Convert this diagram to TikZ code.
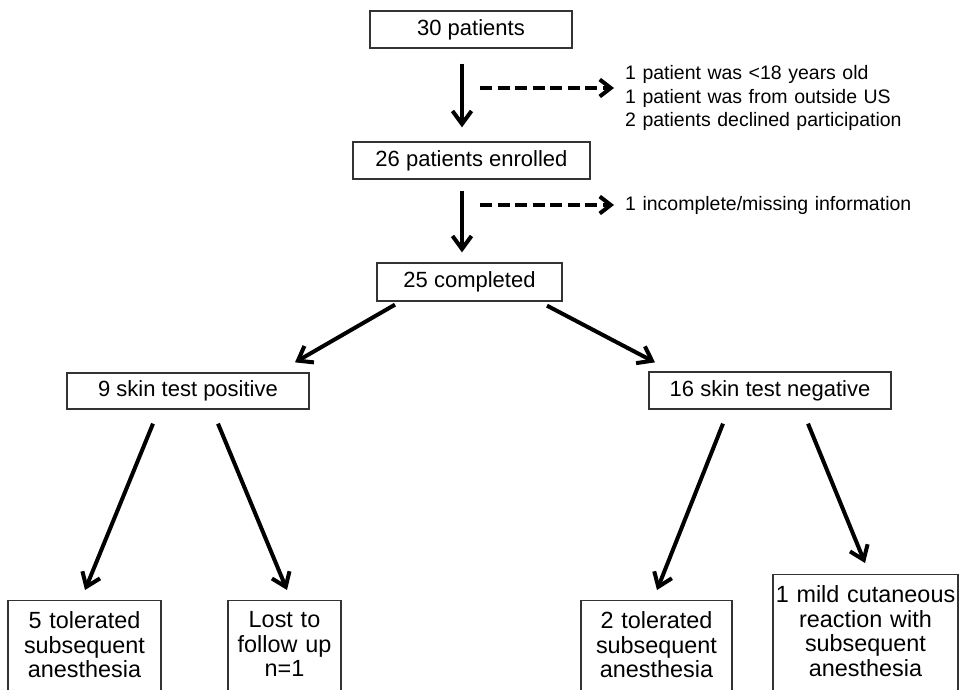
\documentclass[tikz,border=0pt]{standalone}
\usepackage{fontspec}
\setmainfont{Liberation Sans}
\usepackage{tikz}
\usetikzlibrary{arrows.meta}
\tikzset{
  box/.style={draw=black!80,line width=1.3pt,inner sep=0pt,font=\fontsize{22}{26}\selectfont},
  endbox/.style={draw=black!80,line width=1.3pt,anchor=north,inner xsep=0pt,inner ysep=11pt,
    align=center,text depth=95pt,font=\fontsize{23.4}{24.5}\selectfont},
  sidetxt/.style={anchor=base west,inner sep=0pt,text width=330pt,align=left,
    font=\fontsize{19.5}{23.5}\selectfont},
  arr/.style={-{Straight Barb[length=13pt,width=19pt]},line width=4pt},
  dasharr/.style={-{Straight Barb[length=11pt,width=17pt]},line width=4pt,dash pattern=on 12pt off 5.5pt}
}

\begin{document}
\begin{tikzpicture}[x=1pt,y=-1pt]
\useasboundingbox (0,0) rectangle (959,690);
\clip (0,0) rectangle (959,690);

% main column
\node[box,minimum width=202pt,minimum height=37pt] (b30) at (471,29.5) {30 patients};
\node[box,minimum width=237pt,minimum height=37pt] (b26) at (471.5,160.5) {26 patients enrolled};
\node[box,minimum width=185pt,minimum height=38pt] (b25) at (469.5,282) {25 completed};
\node[box,minimum width=242pt,minimum height=36pt] (pos) at (188,391) {9 skin test positive};
\node[box,minimum width=242pt,minimum height=37pt] (neg) at (770,390.5) {16 skin test negative};

% exclusions
\node[sidetxt] (excl1) at (625,80) {1 patient was <18 years old\\1 patient was from outside US\\2 patients declined participation};
\node[sidetxt] (excl2) at (625,211) {1 incomplete/missing information};
\coordinate (d1) at (480,88);
\coordinate (d2) at (480,205);

% outcomes
\node[endbox,text width=153pt] (posok) at (84.5,600) {5 tolerated\\subsequent\\anesthesia};
\node[endbox,text width=113pt] (poslost) at (284.5,600) {Lost to\\follow up\\n=1};
\node[endbox,text width=151pt] (negok) at (656.5,600) {2 tolerated\\subsequent\\anesthesia};
\node[endbox,text width=185pt] (negrx) at (865.5,574) {1 mild cutaneous\\reaction with\\subsequent\\anesthesia};

\draw[arr] ([xshift=-9pt,yshift=-15pt]b30.south) -- ([xshift=-9.5pt,yshift=14pt]b26.north);
\draw[arr] ([xshift=-9.5pt,yshift=-11pt]b26.south) -- ([xshift=-7.5pt,yshift=10pt]b25.north);
\draw[dasharr] (d1) -- ([xshift=-11pt]d1 -| excl1.west);
\draw[dasharr] (d2) -- ([xshift=-11pt]d2 -| excl2.west);

\draw[arr] ([xshift=-74.5pt,yshift=-3pt]b25.south) -- ([xshift=107pt,yshift=10pt]pos.north);
\draw[arr] ([xshift=77.5pt,yshift=-4pt]b25.south) -- ([xshift=-115pt,yshift=9pt]neg.north);

\draw[arr] ([xshift=-35pt,yshift=-14pt]pos.south) -- ([xshift=0.5pt,yshift=10pt]posok.north);
\draw[arr] ([xshift=30pt,yshift=-14pt]pos.south) -- ([xshift=2.5pt,yshift=10pt]poslost.north);
\draw[arr] ([xshift=-47pt,yshift=-14pt]neg.south) -- ([xshift=0.5pt,yshift=10pt]negok.north);
\draw[arr] ([xshift=38pt,yshift=-14pt]neg.south) -- ([xshift=-0.5pt,yshift=11pt]negrx.north);
\end{tikzpicture}
\end{document}
